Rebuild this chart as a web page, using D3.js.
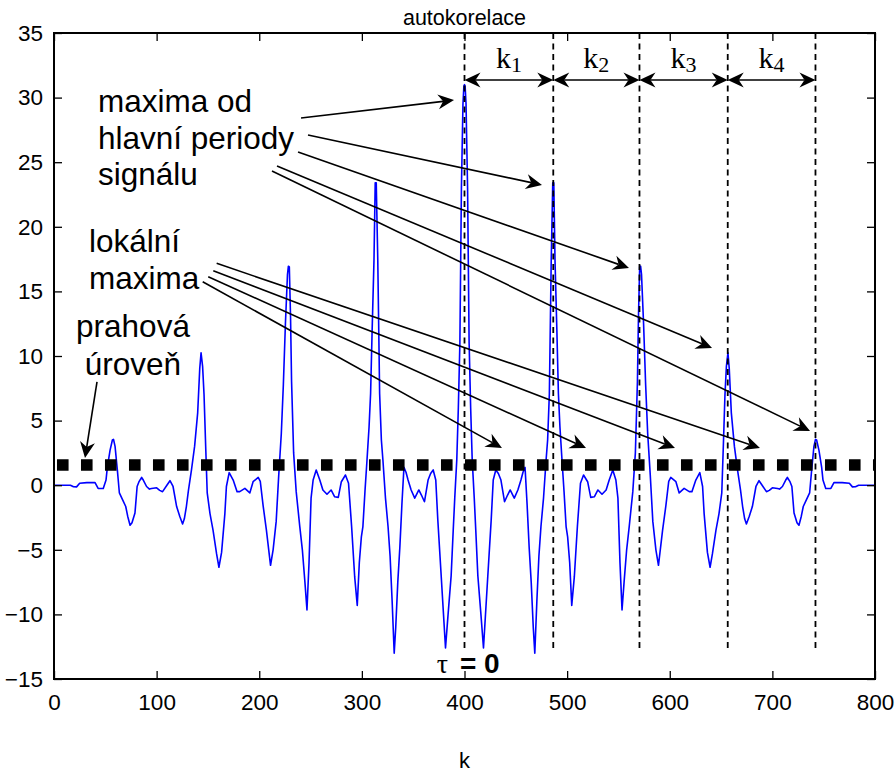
<!DOCTYPE html>
<html>
<head>
<meta charset="utf-8">
<script src="https://cdn.jsdelivr.net/npm/d3@7"></script>
<style>
  body { margin: 0; background: #fff; }
  text { font-family: "Liberation Sans", Arial, sans-serif; fill: #000; }
</style>
</head>
<body>
<div id="chart"></div>
<script>
//********************************************************//
//                        Datos                           //
//********************************************************//
// autokorelace: [k, hodnota]
var acf = [
  [0,0],[10,0],[16,0],[19,-0.12],[22,-0.13],[25,0.15],[32,0.2],[40,0.2],[43,-0.25],[48,-0.25],
  [50.7,0.4],[52,1.4],[54.6,2.7],[56.9,3.5],[58,3.55],[59.5,3.0],[61.7,1.2],[63.7,-0.6],[67,-1.15],
  [69.9,-1.65],[71.8,-2.4],[74.1,-3.1],[76,-2.9],[78.9,-2.15],[81,-0.1],[83,0.3],[85.4,0.6],[87,0.4],
  [90.2,-0.1],[93,-0.3],[95,-0.25],[100,-0.2],[103,-0.4],[105.8,-0.5],[110,0.0],[113,0.35],[116,-0.1],
  [119.5,-1.65],[122.5,-2.4],[125.3,-3.0],[127,-2.6],[129,-1.65],[131,-0.4],[134,1.2],[137,3.0],
  [140,5.6],[142,9.0],[143.3,10.25],[144.8,9.2],[146.2,7.0],[147.8,3.0],[149.3,-0.6],[152,-2.2],
  [155,-3.5],[158.4,-5.3],[160.7,-6.35],[163.3,-5.2],[166.5,-2.2],[168,-0.1],[170.7,0.97],[174.6,0.4],
  [178.4,-0.5],[181,-0.5],[186,-0.25],[190.8,-0.6],[194,0.27],[199,0.6],[201,0.3],[203.8,-1.6],
  [207,-3.5],[211,-6.2],[213.5,-5.0],[216.5,-2.8],[219,0.8],[221.5,4.0],[223.5,7.8],[225.5,12.5],
  [227.5,16.3],[228.4,16.95],[229.3,16.9],[230.5,13.0],[231.5,8.0],[233.5,2.5],[236,-0.5],[239.5,-3.2],[242,-5.0],
  [244.5,-7.5],[246.5,-9.66],[248.5,-6.0],[250.5,-1.0],[252.5,0.4],[255.5,1.18],[259,0.4],[262,-0.37],
  [266,-0.7],[270,-0.37],[273.5,-0.9],[277,-0.94],[280,0.27],[284,0.79],[287,0.15],[290,-3.2],
  [293,-7.1],[295.5,-9.3],[297.5,-6.0],[299.5,-4.0],[301,-3.2],[303,-0.5],[305,1.95],[307,4.5],
  [308.5,7.1],[310,12.0],[311.8,17.4],[313,23.4],[314,23.4],[315.5,17.4],[317.3,7.1],[319,3.5],[320.5,1.95],
  [323,-1.0],[325.5,-3.2],[327.5,-5.5],[329.5,-9.0],[331.5,-13.0],[333,-11.0],[335,-7.5],[337,-4.8],
  [339,-1.5],[341,1.38],[343,1.0],[345,0.4],[348,-0.37],[351.5,-1.0],[355.5,-0.37],[358,-0.76],
  [361,-1.28],[364.5,0.4],[367,0.9],[369.5,1.18],[372,0.4],[374,-2.7],[377.5,-7.3],[381.5,-12.6],
  [384,-10],[387,-7],[389,-3.5],[390.5,-1.0],[392.5,2.0],[394,6.0],[395.5,11.0],[397,23.0],[398.5,29.5],
  [399.4,30.9],[400,31.0],[400.6,30.9],
  [401.5,29.5],[403,23.0],[404.5,11.0],[406,6.0],[407.5,2.0],[409.5,-1.0],[411,-3.5],[413,-7],[416,-10],
  [418.5,-12.6],[422.5,-7.3],[426,-2.7],[428,0.4],[430.5,1.18],[433,0.9],[435.5,0.4],[439,-1.28],
  [442,-0.76],[444.5,-0.37],[448.5,-1.0],[452,-0.37],[455,0.4],[457,1.0],[459,1.38],[461,-1.5],
  [463,-4.8],[465,-7.5],[467,-11.0],[468.5,-13.0],[470.5,-9.0],[472.5,-5.5],[474.5,-3.2],[477,-1.0],
  [479.5,1.95],[481,3.5],[482.7,7.1],[484.5,17.4],[486,23.4],[487,23.4],[488.2,17.4],[490,12.0],[491.5,7.1],
  [493,4.5],[495,1.95],[497,-0.5],[499,-3.2],[500.5,-4.0],[502.5,-6.0],[504.5,-9.3],[507,-7.1],
  [510,-3.2],[513,0.15],[516,0.79],[520,0.27],[523,-0.94],[526.5,-0.9],[530,-0.37],[534,-0.7],
  [538,-0.37],[541,0.4],[544.5,1.18],[547.5,0.4],[549.5,-1.0],[551.5,-6.0],[553.5,-9.66],[555.5,-7.5],
  [558,-5.0],[560.5,-3.2],[564,-0.5],[566.5,2.5],[568.5,8.0],[569.5,13.0],[570.7,16.9],[571.6,16.95],[572.5,16.3],
  [574.5,12.5],[576.5,7.8],[578.5,4.0],[581,0.8],[583.5,-2.8],[586.5,-5.0],[589,-6.2],[593,-3.5],
  [596.2,-1.6],[599,0.3],[601,0.6],[606,0.27],[609.2,-0.6],[614,-0.25],[619,-0.5],[621.6,-0.5],
  [625.4,0.4],[629.3,0.97],[632,-0.1],[633.5,-2.2],[636.7,-5.2],[639.3,-6.35],[641.6,-5.3],[645,-3.5],
  [648,-2.2],[650.7,-0.6],[652.2,3.0],[653.8,7.0],[655.2,9.2],[656.7,10.25],[658,9.0],[660,5.6],
  [663,3.0],[666,1.2],[669,-0.4],[671,-1.65],[673,-2.6],[674.7,-3.0],[677.5,-2.4],[680.5,-1.65],
  [684,-0.1],[687,0.35],[690,0.0],[694.2,-0.5],[697,-0.4],[700,-0.2],[705,-0.25],[707,-0.3],
  [709.8,-0.1],[713,0.4],[714.6,0.6],[717,0.3],[719,-0.1],[721.1,-2.15],[724,-2.9],[725.9,-3.1],
  [728.2,-2.4],[730.1,-1.65],[733,-1.15],[736.3,-0.6],[738.3,1.2],[740.5,3.0],[742,3.55],[743.1,3.5],
  [745.4,2.7],[748,1.4],[749.3,0.4],[752,-0.25],[757,-0.25],[760,0.2],[768,0.2],[775,0.15],
  [778,-0.13],[781,-0.12],[784,0],[790,0],[800,0]
];

var xTicks = [0, 100, 200, 300, 400, 500, 600, 700, 800];
var yTicks = [-15, -10, -5, 0, 5, 10, 15, 20, 25, 30, 35];

// prahová úroveň
var prah = 1.56;

// svislé čáry period a popisky k1..k4
var periodyK = [400, 486.5, 570.5, 656.5, 742];
var periodyIndex = ["1", "2", "3", "4"];

// šipky [k0, v0, k1, v1]
var sipkyHlavni = [
  [240.7, 28.42, 389.8, 29.81],
  [247.5, 27.11, 475.5, 23.24],
  [237.8, 25.79, 560.3, 16.81],
  [217.3, 24.71, 641.2, 10.62],
  [212.4, 24.32, 736.7, 4.20]
];
var sipkyLokalni = [
  [158.5, 17.17, 687.9, 2.88],
  [155.2, 16.60, 605.1, 2.88],
  [150.3, 16.14, 518.4, 2.88],
  [144.9, 15.75, 436.5, 2.88]
];
var sipkaPrah = [41.9, 7.99, 30.2, 2.11];

//********************************************************//
//                     Escalas y SVG                      //
//********************************************************//
var chart_width = 895;
var chart_height = 774;

var escalaX = d3.scaleLinear().domain([0, 800]).range([54, 875]);
var escalaY = d3.scaleLinear().domain([-15, 35]).range([679, 33]);

var svg = d3.select("#chart")
  .append("svg")
  .attr("width", chart_width)
  .attr("height", chart_height);

svg.append("rect")
  .attr("width", chart_width)
  .attr("height", chart_height)
  .style("fill", "white");

// křivka
var line = d3.line()
  .x(function (d) { return escalaX(d[0]); })
  .y(function (d) { return escalaY(d[1]); });

svg.append("path")
  .datum(acf)
  .attr("fill", "none")
  .attr("stroke", "#0000ff")
  .attr("stroke-width", 1.6)
  .attr("stroke-linejoin", "round")
  .attr("d", line);

// prahová úroveň
svg.append("line")
  .attr("x1", escalaX(2.9))
  .attr("x2", escalaX(800))
  .attr("y1", escalaY(prah))
  .attr("y2", escalaY(prah))
  .attr("stroke", "black")
  .attr("stroke-width", 11.5)
  .attr("stroke-dasharray", "11.6,12.4");

// svislé čárkované čáry
svg.selectAll(".perioda")
  .data(periodyK)
  .enter()
  .append("line")
  .attr("class", "perioda")
  .attr("x1", function (d) { return escalaX(d); })
  .attr("x2", function (d) { return escalaX(d); })
  .attr("y1", escalaY(35))
  .attr("y2", escalaY(-12.8))
  .attr("stroke", "black")
  .attr("stroke-width", 1.8)
  .attr("stroke-dasharray", "6,4.5");

//********************************************************//
//                         Ejes                           //
//********************************************************//
function stylAxis(g) {
  g.select(".domain").remove();
  g.selectAll(".tick line").attr("stroke", "black").attr("stroke-width", 1.3);
  g.selectAll("text").style("font-size", "22.5px").style("font-family", "'Liberation Sans', Arial, sans-serif").attr("fill", "black");
}

svg.append("g")
  .attr("transform", "translate(0,679)")
  .call(d3.axisBottom(escalaX).tickValues(xTicks).tickSize(-8).tickSizeOuter(0).tickPadding(15))
  .call(stylAxis);

svg.append("g")
  .attr("transform", "translate(54,0)")
  .call(d3.axisLeft(escalaY).tickValues(yTicks).tickSize(-8).tickSizeOuter(0).tickPadding(11))
  .call(stylAxis);

svg.append("g")
  .attr("transform", "translate(0,33)")
  .call(d3.axisTop(escalaX).tickValues(xTicks).tickSize(-8).tickSizeOuter(0).tickFormat(""))
  .call(stylAxis);

svg.append("g")
  .attr("transform", "translate(875,0)")
  .call(d3.axisRight(escalaY).tickValues(yTicks).tickSize(-8).tickSizeOuter(0).tickFormat(""))
  .call(stylAxis);

svg.append("rect")
  .attr("x", escalaX(0))
  .attr("y", escalaY(35))
  .attr("width", escalaX(800) - escalaX(0))
  .attr("height", escalaY(-15) - escalaY(35))
  .attr("fill", "none")
  .attr("stroke", "black")
  .attr("stroke-width", 2);

// titulek a popisek osy
svg.append("text")
  .attr("x", (escalaX(0) + escalaX(800)) / 2)
  .attr("y", 25)
  .attr("text-anchor", "middle")
  .style("font-size", "21.5px")
  .text("autokorelace");

svg.append("text")
  .attr("x", (escalaX(0) + escalaX(800)) / 2)
  .attr("y", 768)
  .attr("text-anchor", "middle")
  .style("font-size", "22px")
  .text("k");

//********************************************************//
//                        Šipky                           //
//********************************************************//
var hlavaDelka = 16, hlavaSirka = 7.5, hlavaZarez = 5;

function hlava(x0, y0, x1, y1) {
  var dx = x1 - x0, dy = y1 - y0;
  var len = Math.sqrt(dx * dx + dy * dy);
  var ux = dx / len, uy = dy / len;
  var px = -uy, py = ux;
  var bx = x1 - hlavaDelka * ux, by = y1 - hlavaDelka * uy;
  svg.append("path")
    .attr("d", "M" + x1 + "," + y1 +
      "L" + (bx + hlavaSirka * px) + "," + (by + hlavaSirka * py) +
      "L" + (x1 - (hlavaDelka - hlavaZarez) * ux) + "," + (y1 - (hlavaDelka - hlavaZarez) * uy) +
      "L" + (bx - hlavaSirka * px) + "," + (by - hlavaSirka * py) + "Z")
    .attr("fill", "black");
  return [x1 - (hlavaDelka - hlavaZarez) * ux, y1 - (hlavaDelka - hlavaZarez) * uy];
}

function sipka(s) {
  var x0 = escalaX(s[0]), y0 = escalaY(s[1]);
  var x1 = escalaX(s[2]), y1 = escalaY(s[3]);
  var konec = hlava(x0, y0, x1, y1);
  svg.append("line")
    .attr("x1", x0).attr("y1", y0)
    .attr("x2", konec[0]).attr("y2", konec[1])
    .attr("stroke", "black")
    .attr("stroke-width", 1.6);
}

function dvojsipka(k0, k1, v) {
  var x0 = escalaX(k0), x1 = escalaX(k1), y = escalaY(v);
  var a = hlava(x1, y, x0, y);
  var b = hlava(x0, y, x1, y);
  svg.append("line")
    .attr("x1", a[0]).attr("y1", y)
    .attr("x2", b[0]).attr("y2", y)
    .attr("stroke", "black")
    .attr("stroke-width", 1.6);
}

sipkyHlavni.forEach(sipka);
sipkyLokalni.forEach(sipka);
sipka(sipkaPrah);

for (var i = 0; i < periodyIndex.length; i++) {
  dvojsipka(periodyK[i], periodyK[i + 1], 31.36);
  var t = svg.append("text")
    .attr("x", escalaX((periodyK[i] + periodyK[i + 1]) / 2))
    .attr("y", escalaY(32.27))
    .attr("text-anchor", "middle")
    .style("font-family", "'Liberation Serif', 'Times New Roman', serif");
  t.append("tspan").style("font-size", "30px").text("k");
  t.append("tspan").style("font-size", "22px").attr("dy", 4).text(periodyIndex[i]);
}

//********************************************************//
//                        Popisky                         //
//********************************************************//
function popisek(radky, x, y0, krok, kotva) {
  radky.forEach(function (r, j) {
    svg.append("text")
      .attr("x", x)
      .attr("y", y0 + j * krok)
      .attr("text-anchor", kotva)
      .style("font-size", "31.5px")
      .text(r);
  });
}

popisek(["maxima od", "hlavní periody", "signálu"], 98, 112, 36.5, "start");
popisek(["lokální", "maxima"], 89, 252, 36.5, "start");
popisek(["prahová", "úroveň"], 133, 337, 38, "middle");

// τ = 0
var tau = svg.append("text")
  .attr("x", escalaX(373))
  .attr("y", escalaY(-14.56));
tau.append("tspan")
  .style("font-family", "'Liberation Serif', 'Times New Roman', serif")
  .style("font-size", "28px")
  .text("τ");
tau.append("tspan")
  .attr("x", escalaX(395.6))
  .style("font-size", "28px")
  .style("font-weight", "bold")
  .text("= 0");
</script>
</body>
</html>
